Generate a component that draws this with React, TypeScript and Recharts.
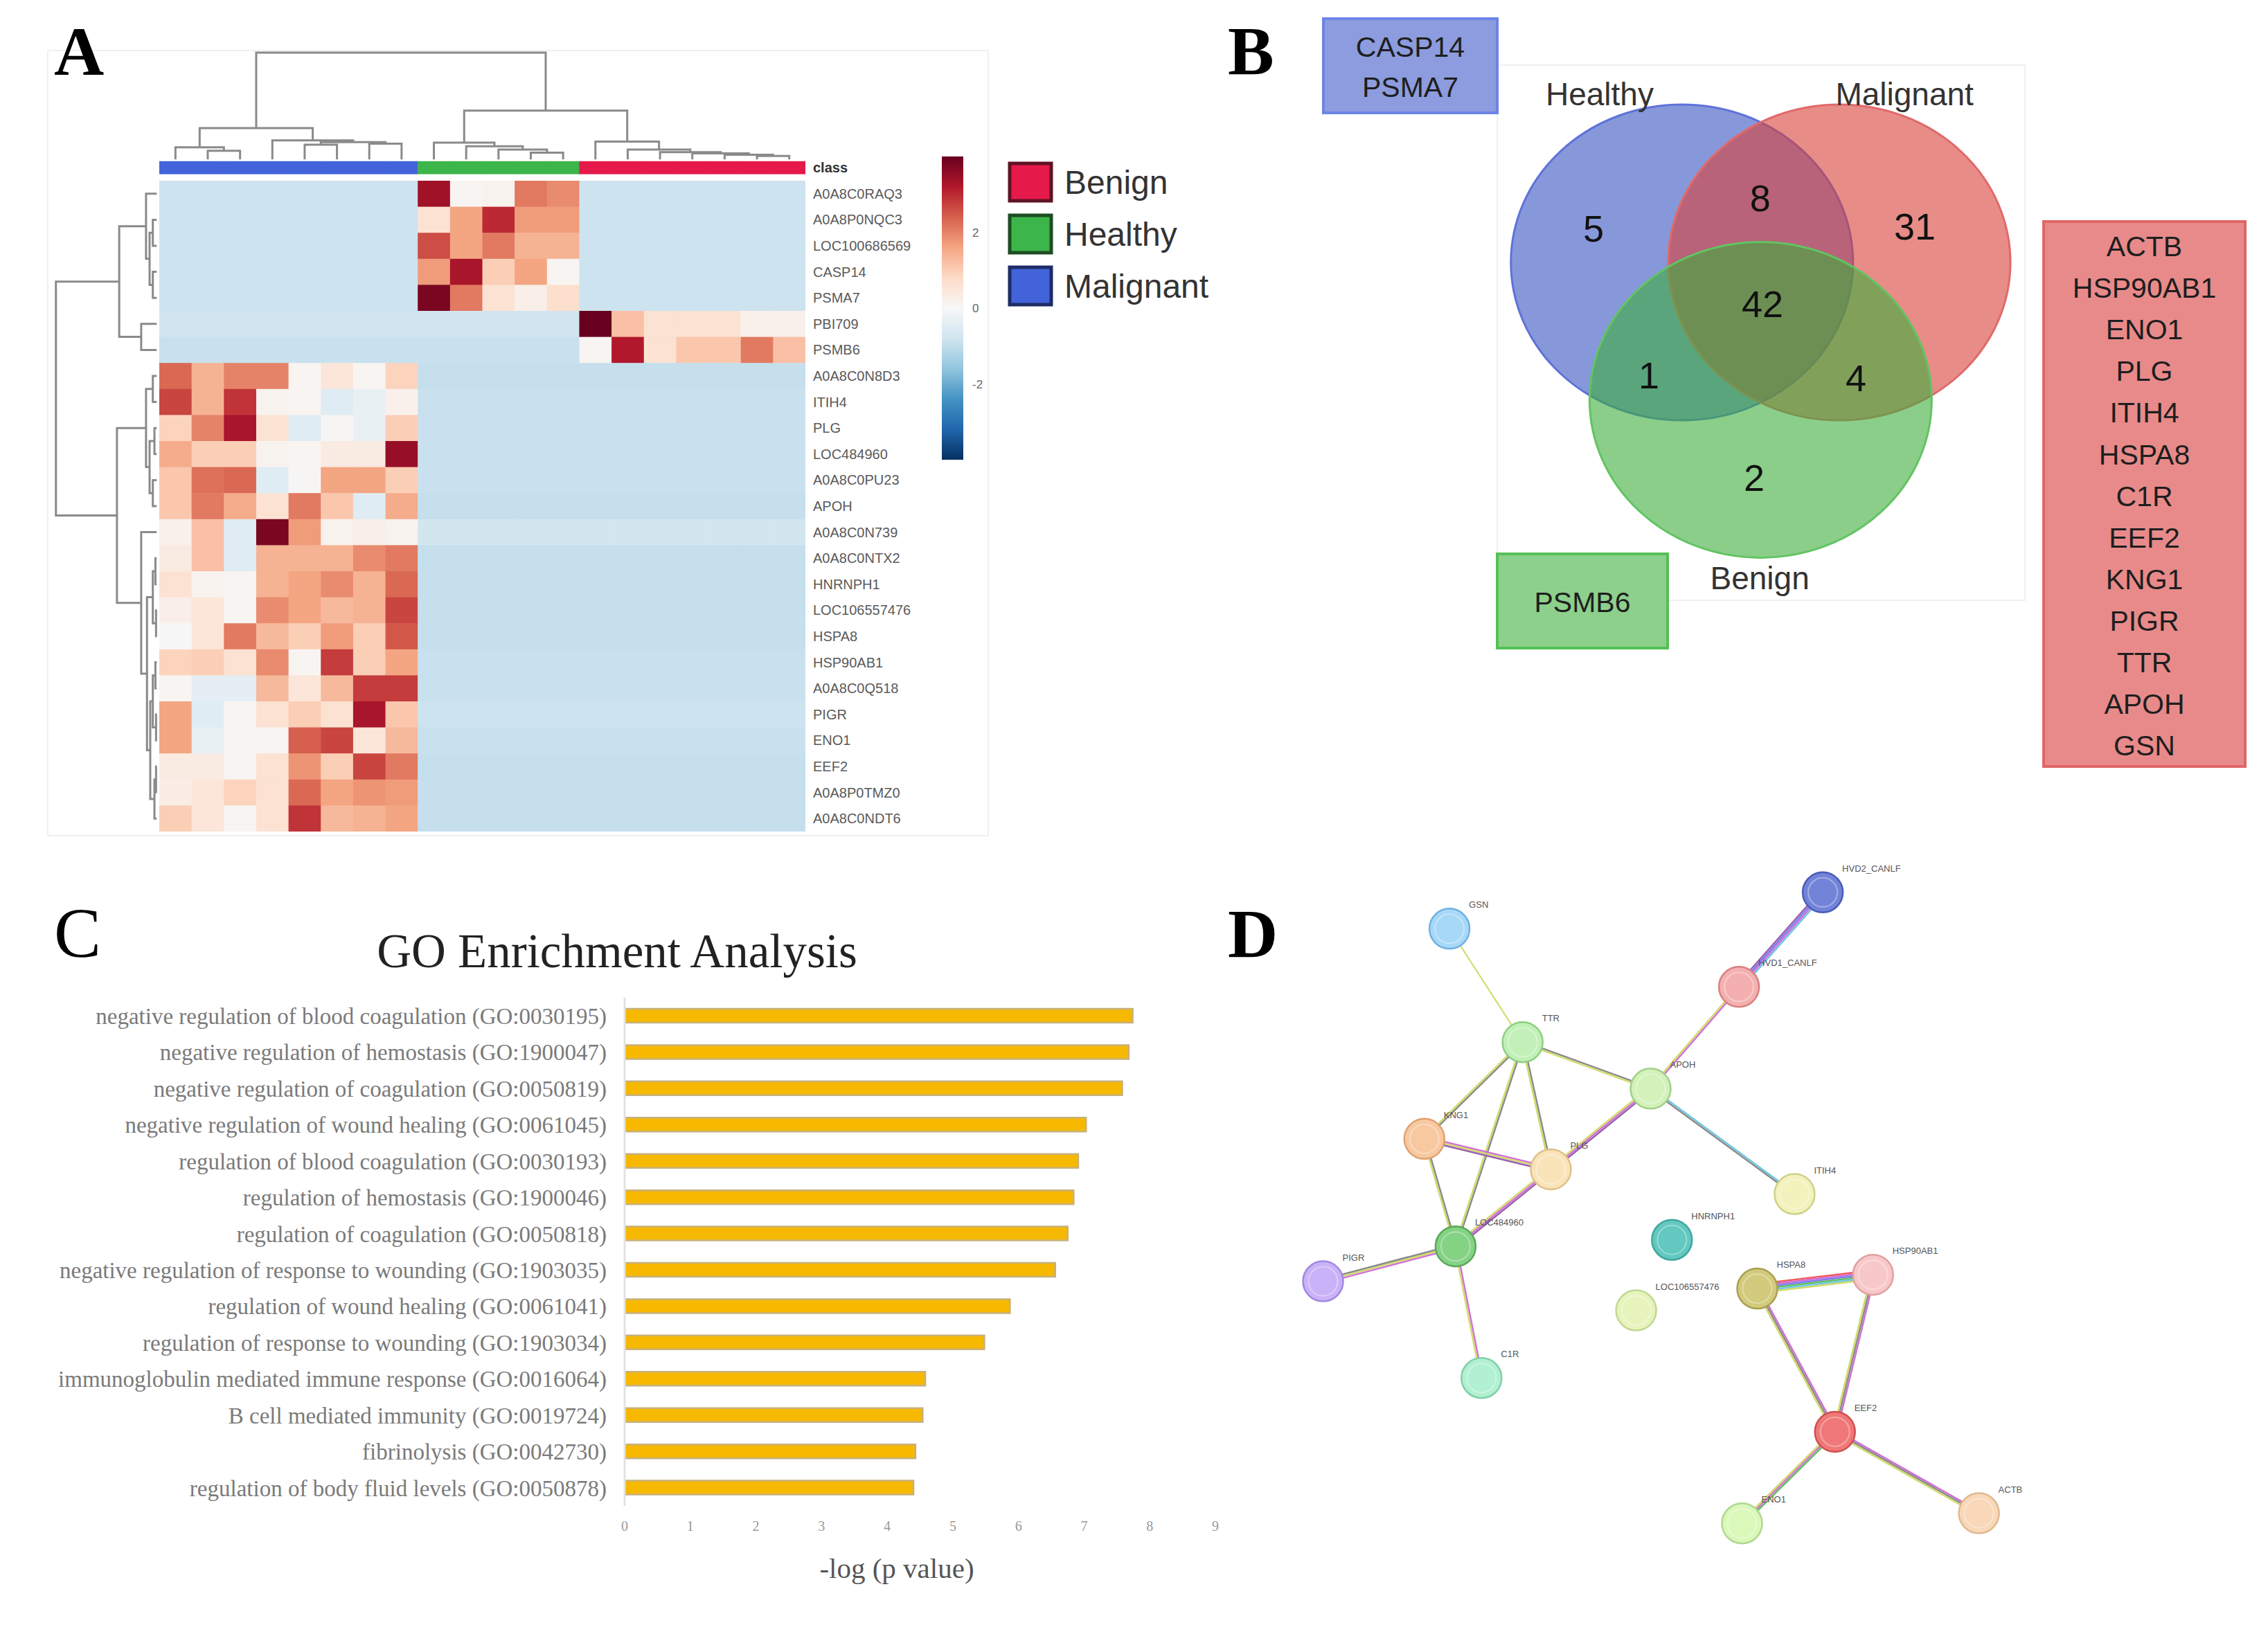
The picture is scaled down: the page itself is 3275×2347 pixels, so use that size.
import React from 'react';
import { ScatterChart, Scatter, XAxis, YAxis, BarChart, Bar, ReferenceArea } from 'recharts';

// ================= Panel A: heatmap data =================
const geneNames = [
  'A0A8C0RAQ3', 'A0A8P0NQC3', 'LOC100686569', 'CASP14', 'PSMA7', 'PBI709', 'PSMB6',
  'A0A8C0N8D3', 'ITIH4', 'PLG', 'LOC484960', 'A0A8C0PU23', 'APOH', 'A0A8C0N739',
  'A0A8C0NTX2', 'HNRNPH1', 'LOC106557476', 'HSPA8', 'HSP90AB1', 'A0A8C0Q518', 'PIGR',
  'ENO1', 'EEF2', 'A0A8P0TMZ0', 'A0A8C0NDT6',
];
const sampleGroups = ['Malignant', 'Healthy', 'Benign'];
const groupSizes = [8, 5, 7];
const rowGroup = [
  'Healthy', 'Healthy', 'Healthy', 'Healthy', 'Healthy', 'Benign', 'Benign',
  'Malignant', 'Malignant', 'Malignant', 'Malignant', 'Malignant', 'Malignant', 'Malignant',
  'Malignant', 'Malignant', 'Malignant', 'Malignant', 'Malignant', 'Malignant', 'Malignant',
  'Malignant', 'Malignant', 'Malignant', 'Malignant',
];
const healthyRowValues = [
  [3.4, 0.1, 0.15, 2.1, 1.9],
  [0.6, 1.6, 3.0, 1.7, 1.7],
  [2.6, 1.6, 2.1, 1.4, 1.4],
  [1.7, 3.3, 1.0, 1.6, 0.1],
  [3.8, 2.1, 0.6, 0.25, 0.7],
];
const benignRowValues = [
  [4.0, 1.2, 0.6, 0.6, 0.6, 0.2, 0.2],
  [0.1, 3.2, 0.6, 1.1, 1.1, 2.1, 1.2],
];
const malignantRowValues = [
  [2.3, 1.4, 2.0, 2.0, 0.1, 0.5, 0.1, 0.9],
  [2.7, 1.4, 2.9, 0.15, 0.1, -0.5, -0.3, 0.2],
  [0.9, 2.0, 3.3, 0.6, -0.5, 0.05, -0.3, 1.0],
  [1.5, 1.0, 1.0, 0.15, 0.1, 0.35, 0.35, 3.5],
  [1.1, 2.2, 2.3, -0.5, 0.05, 1.6, 1.6, 1.0],
  [1.1, 2.1, 1.5, 0.6, 2.1, 1.1, -0.5, 1.5],
  [0.2, 1.2, -0.5, 3.8, 1.7, 0.15, 0.25, 0.15],
  [0.35, 1.2, -0.5, 1.4, 1.4, 1.4, 1.9, 2.1],
  [0.6, 0.15, 0.1, 1.4, 1.6, 1.9, 1.4, 2.3],
  [0.25, 0.5, 0.1, 1.9, 1.6, 1.3, 1.4, 2.7],
  [0.0, 0.5, 2.1, 1.3, 1.0, 1.7, 1.0, 2.5],
  [0.9, 1.0, 0.6, 1.9, 0.1, 2.8, 1.0, 1.6],
  [0.1, -0.4, -0.4, 1.3, 0.5, 1.3, 2.8, 2.8],
  [1.6, -0.5, 0.1, 0.6, 1.0, 0.6, 3.3, 1.1],
  [1.6, -0.3, 0.1, 0.1, 2.4, 2.7, 0.5, 1.3],
  [0.35, 0.35, 0.05, 0.6, 1.8, 1.0, 2.7, 2.1],
  [0.3, 0.5, 0.9, 0.6, 2.3, 1.6, 1.8, 1.7],
  [1.0, 0.5, 0.1, 0.6, 2.9, 1.3, 1.4, 1.6],
];
const rowBackground = [
  -0.85, -0.85, -0.85, -0.85, -0.85, -0.8, -0.9, -0.95, -0.9, -0.9, -0.9, -0.9, -0.95,
  -0.75, -0.95, -0.95, -0.95, -0.95, -0.9, -0.9, -0.85, -0.9, -0.95, -0.95, -0.95,
];
// [childA, childB, height]; leaves are column / row indices, merges numbered after leaves
const colLinkage = [
  [1, 2, -1.15], [0, 20, -1.28], [4, 5, -1.38], [6, 7, -1.42], [22, 23, -1.48], [3, 24, -1.55],
  [21, 25, -2.02], [11, 12, -1.08], [10, 27, -1.2], [9, 28, -1.32], [8, 29, -1.46],
  [18, 19, -0.95], [17, 31, -1.0], [16, 32, -1.05], [15, 33, -1.1], [14, 34, -1.2], [13, 35, -1.5],
  [30, 36, -2.69], [26, 37, -4.92],
];
const rowLinkage = [
  [1, 2, -0.2], [3, 4, -0.2], [25, 26, -0.3], [0, 27, -0.41], [5, 6, -0.56], [28, 29, -1.24],
  [7, 8, -0.2], [9, 10, -0.15], [11, 12, -0.2], [32, 33, -0.3], [31, 34, -0.41],
  [14, 15, -0.12], [16, 17, -0.1], [36, 37, -0.2], [18, 19, -0.12], [20, 21, -0.1], [39, 40, -0.2],
  [22, 23, -0.1], [42, 24, -0.15], [41, 43, -0.28], [38, 44, -0.38], [13, 45, -0.56],
  [35, 46, -1.31], [30, 47, -3.2],
];
const colorbarTicks = [-2, 0, 2];

// ================= Panel B: Venn data =================
const vennSets = [
  { name: 'Healthy', x: 1.08, y: 1.25, r: 1 },
  { name: 'Malignant', x: 2.0, y: 1.25, r: 1 },
  { name: 'Benign', x: 1.54, y: 2.12, r: 1 },
];
const vennCounts = [
  { x: 0.563, y: 1.035, count: 5 },
  { x: 1.538, y: 0.842, count: 8 },
  { x: 2.441, y: 1.018, count: 31 },
  { x: 1.551, y: 1.509, count: 42 },
  { x: 0.887, y: 1.961, count: 1 },
  { x: 2.097, y: 1.982, count: 4 },
  { x: 1.502, y: 2.614, count: 2 },
];
const vennNames = [
  { x: 0.599, y: 0.182, label: 'Healthy' },
  { x: 2.381, y: 0.182, label: 'Malignant' },
  { x: 1.535, y: 3.246, label: 'Benign' },
];
const healthyOnlyGenes = ['CASP14', 'PSMA7'];
const benignOnlyGenes = ['PSMB6'];
const malignantOnlyGenes = ['ACTB', 'HSP90AB1', 'ENO1', 'PLG', 'ITIH4', 'HSPA8', 'C1R', 'EEF2', 'KNG1', 'PIGR', 'TTR', 'APOH', 'GSN'];

// ================= Panel C: GO enrichment =================
const goTerms = [
  'negative regulation of blood coagulation (GO:0030195)',
  'negative regulation of hemostasis (GO:1900047)',
  'negative regulation of coagulation (GO:0050819)',
  'negative regulation of wound healing (GO:0061045)',
  'regulation of blood coagulation (GO:0030193)',
  'regulation of hemostasis (GO:1900046)',
  'regulation of coagulation (GO:0050818)',
  'negative regulation of response to wounding (GO:1903035)',
  'regulation of wound healing (GO:0061041)',
  'regulation of response to wounding (GO:1903034)',
  'immunoglobulin mediated immune response (GO:0016064)',
  'B cell mediated immunity (GO:0019724)',
  'fibrinolysis (GO:0042730)',
  'regulation of body fluid levels (GO:0050878)',
];
const goValues = [7.74, 7.68, 7.58, 7.03, 6.91, 6.84, 6.75, 6.56, 5.87, 5.48, 4.58, 4.54, 4.43, 4.4];
const goTicks = [0, 1, 2, 3, 4, 5, 6, 7, 8, 9];

// ================= Panel D: network =================
const networkNodes = [
  { id: 'GSN', x: 22.1, y: 8.7 },
  { id: 'HVD2_CANLF', x: 71.1, y: 3.7 },
  { id: 'HVD1_CANLF', x: 60.1, y: 16.7 },
  { id: 'TTR', x: 31.7, y: 24.3 },
  { id: 'APOH', x: 48.5, y: 30.7 },
  { id: 'KNG1', x: 18.8, y: 37.6 },
  { id: 'PLG', x: 35.4, y: 41.8 },
  { id: 'ITIH4', x: 67.4, y: 45.2 },
  { id: 'LOC484960', x: 22.9, y: 52.4 },
  { id: 'PIGR', x: 5.5, y: 57.2 },
  { id: 'HNRNPH1', x: 51.3, y: 51.5 },
  { id: 'LOC106557476', x: 46.6, y: 61.2 },
  { id: 'HSPA8', x: 62.5, y: 58.2 },
  { id: 'HSP90AB1', x: 77.7, y: 56.3 },
  { id: 'C1R', x: 26.3, y: 70.5 },
  { id: 'EEF2', x: 72.7, y: 77.9 },
  { id: 'ENO1', x: 60.5, y: 90.5 },
  { id: 'ACTB', x: 91.6, y: 89.1 },
];
const networkEdges: [string, string, string[]][] = [
  ['GSN', 'TTR', ['textmining']],
  ['HVD2_CANLF', 'HVD1_CANLF', ['database', 'experiments', 'cooccurrence', 'homology']],
  ['HVD1_CANLF', 'APOH', ['experiments', 'textmining']],
  ['TTR', 'APOH', ['coexpression', 'textmining']],
  ['TTR', 'KNG1', ['coexpression', 'textmining']],
  ['TTR', 'PLG', ['coexpression', 'textmining']],
  ['TTR', 'LOC484960', ['coexpression', 'textmining']],
  ['APOH', 'PLG', ['homology', 'experiments', 'textmining']],
  ['PLG', 'LOC484960', ['homology', 'experiments', 'textmining']],
  ['APOH', 'ITIH4', ['database', 'coexpression']],
  ['KNG1', 'PLG', ['experiments', 'textmining', 'homology']],
  ['KNG1', 'LOC484960', ['coexpression', 'textmining']],
  ['LOC484960', 'PIGR', ['experiments', 'textmining', 'coexpression']],
  ['LOC484960', 'C1R', ['experiments', 'textmining']],
  ['HSPA8', 'HSP90AB1', ['fusion', 'experiments', 'cooccurrence', 'neighborhood', 'database', 'textmining']],
  ['HSPA8', 'EEF2', ['experiments', 'coexpression', 'textmining']],
  ['HSP90AB1', 'EEF2', ['experiments', 'coexpression', 'textmining']],
  ['EEF2', 'ENO1', ['neighborhood', 'experiments', 'textmining']],
  ['EEF2', 'ACTB', ['experiments', 'coexpression', 'textmining']],
];

// ================= styles =================
const GROUP_COLORS: Record<string, string> = { Malignant: '#4263D9', Healthy: '#3CB54A', Benign: '#E6194B' };
const GROUP_BORDER: Record<string, string> = { Malignant: '#1E2C66', Healthy: '#1D4D22', Benign: '#5E1424' };
const RDBU = ['#053061', '#2166ac', '#4393c3', '#92c5de', '#d1e5f0', '#f7f7f7', '#fddbc7', '#f4a582', '#d6604d', '#b2182b', '#67001f'];
const VENN_STYLE: Record<string, { fill: string; stroke: string }> = {
  Healthy: { fill: 'rgb(55,83,193)', stroke: '#5E72D8' },
  Malignant: { fill: 'rgb(217,63,57)', stroke: '#E06A6A' },
  Benign: { fill: 'rgb(60,173,60)', stroke: '#62C462' },
};
const EVIDENCE_COLORS: Record<string, string> = {
  experiments: '#D26FD6', textmining: '#D2DA6A', coexpression: '#8A8A8A', database: '#6CC8E4',
  cooccurrence: '#7A7AF0', neighborhood: '#5DBF5D', fusion: '#EF5B5B', homology: '#9A62B0',
};
const NODE_STYLE: Record<string, { fill: string; stroke: string }> = {
  GSN: { fill: '#A8D8F8', stroke: '#6FB0E0' },
  HVD2_CANLF: { fill: '#7383D8', stroke: '#4A5AB8' },
  HVD1_CANLF: { fill: '#F4B0B0', stroke: '#D88080' },
  TTR: { fill: '#C2F0B8', stroke: '#8CD080' },
  APOH: { fill: '#D2F2BA', stroke: '#A0D088' },
  KNG1: { fill: '#F8C8A0', stroke: '#E0A070' },
  PLG: { fill: '#F8E4B8', stroke: '#E0C088' },
  ITIH4: { fill: '#F2F2BC', stroke: '#D0D088' },
  LOC484960: { fill: '#84D284', stroke: '#58A858' },
  PIGR: { fill: '#CAB2F8', stroke: '#A088E0' },
  HNRNPH1: { fill: '#62C8C0', stroke: '#40A8A0' },
  LOC106557476: { fill: '#E6F4BC', stroke: '#C0D890' },
  HSPA8: { fill: '#D2CA7C', stroke: '#A8A050' },
  HSP90AB1: { fill: '#F8C8C8', stroke: '#E0A0A0' },
  C1R: { fill: '#B2F0D2', stroke: '#80D0A8' },
  EEF2: { fill: '#F07878', stroke: '#D05050' },
  ENO1: { fill: '#DAF8BA', stroke: '#B0D890' },
  ACTB: { fill: '#F8D8B8', stroke: '#E0B890' },
};

// ================= geometry of the plots =================
const A_XDOM: [number, number] = [-3.28, 20];
const A_YDOM: [number, number] = [-5, 25];
const A_PLOT_W = 1086;
const A_PLOT_H = 1128;
const A_AXIS_W = 240;
const A_PX_X = A_PLOT_W / (A_XDOM[1] - A_XDOM[0]);
const A_PX_Y = A_PLOT_H / (A_YDOM[1] - A_YDOM[0]);

const V_W = 762;
const V_H = 773;
const V_XDOM: [number, number] = [0, 3.085];
const V_YDOM: [number, number] = [0, 3.39];
const V_PX_X = V_W / (V_XDOM[1] - V_XDOM[0]);
const V_PX_Y = V_H / (V_YDOM[1] - V_YDOM[0]);

const NODE_R = 29;

// ================= helpers =================
function hexToRgb(h: string) {
  return [parseInt(h.slice(1, 3), 16), parseInt(h.slice(3, 5), 16), parseInt(h.slice(5, 7), 16)];
}
function rdbu(v: number) {
  const t = Math.max(0, Math.min(1, (v + 4) / 8)) * 10;
  const i = Math.min(9, Math.floor(t));
  const f = t - i;
  const a = hexToRgb(RDBU[i]);
  const b = hexToRgb(RDBU[i + 1]);
  const c = a.map((x, k) => Math.round(x + (b[k] - x) * f));
  return `rgb(${c[0]},${c[1]},${c[2]})`;
}

const colGroup: string[] = [];
sampleGroups.forEach((g, i) => {
  for (let k = 0; k < groupSizes[i]; k++) colGroup.push(g);
});
const groupStart: Record<string, number> = {};
colGroup.forEach((g, i) => {
  if (groupStart[g] === undefined) groupStart[g] = i;
});

const heatCells: { x: number; y: number; v: number }[] = [];
{
  const counters: Record<string, number> = { Healthy: 0, Benign: 0, Malignant: 0 };
  const src: Record<string, number[][]> = { Healthy: healthyRowValues, Benign: benignRowValues, Malignant: malignantRowValues };
  geneNames.forEach((_, r) => {
    const g = rowGroup[r];
    const vals = src[g][counters[g]++];
    colGroup.forEach((cg, c) => {
      const v = cg === g ? vals[c - groupStart[g]] : rowBackground[r];
      heatCells.push({ x: c + 0.5, y: r + 0.5, v });
    });
  });
}
const classCells = colGroup.map((g, c) => ({ x: c + 0.5, y: -0.5, group: g }));

function buildLinks(linkage: number[][], nLeaves: number, leafH: number) {
  const pos: number[] = [];
  const h: number[] = [];
  for (let i = 0; i < nLeaves; i++) {
    pos[i] = i + 0.5;
    h[i] = leafH;
  }
  return linkage.map(([a, b, height], k) => {
    const id = nLeaves + k;
    pos[id] = (pos[a] + pos[b]) / 2;
    h[id] = height;
    return { pa: pos[a], pb: pos[b], ha: h[a], hb: h[b], h: height };
  });
}
const colLinks = buildLinks(colLinkage, 20, -0.82).map((l) => [
  { x: l.pa, y: l.ha }, { x: l.pa, y: l.h }, { x: l.pb, y: l.h }, { x: l.pb, y: l.hb },
]);
const rowLinks = buildLinks(rowLinkage, 25, -0.08).map((l) => [
  { x: l.ha, y: l.pa }, { x: l.h, y: l.pa }, { x: l.h, y: l.pb }, { x: l.hb, y: l.pb },
]);
const rowTicks = [-0.5, ...geneNames.map((_, i) => i + 0.5)];

const goData = goTerms.map((term, i) => ({ term, value: goValues[i] }));
const nodeById: Record<string, { id: string; x: number; y: number }> = {};
networkNodes.forEach((n) => (nodeById[n.id] = n));

// ================= shapes =================
const Empty = () => <g />;

const HeatCell = (p: any) => {
  const v = p.payload ? p.payload.v : p.v;
  return (
    <rect x={p.cx - A_PX_X / 2} y={p.cy - A_PX_Y / 2} width={A_PX_X + 0.6} height={A_PX_Y + 0.6} fill={rdbu(v)} />
  );
};
const ClassCell = (p: any) => {
  const g = p.payload ? p.payload.group : p.group;
  const h = A_PX_Y * 0.5;
  return <rect x={p.cx - A_PX_X / 2} y={p.cy - h / 2} width={A_PX_X + 0.6} height={h} fill={GROUP_COLORS[g]} />;
};
const GeneTick = (p: any) => {
  const v = p.payload.value;
  const isClass = v < 0;
  const label = isClass ? 'class' : geneNames[Math.floor(v)];
  return (
    <text x={p.x} y={p.y} dy="0.35em" textAnchor="start" fontFamily="Liberation Sans, Arial, sans-serif"
      fontSize={20} fontWeight={isClass ? 'bold' : 'normal'} fill={isClass ? '#333' : '#5a5a5a'}>
      {label}
    </text>
  );
};
const VennCircle = (p: any) => {
  const d = p.payload || p;
  const st = VENN_STYLE[d.name];
  return (
    <ellipse cx={p.cx} cy={p.cy} rx={d.r * V_PX_X} ry={d.r * V_PX_Y} fill={st.fill} fillOpacity={0.6}
      stroke={st.stroke} strokeWidth={3} />
  );
};
const VennCount = (p: any) => {
  const d = p.payload || p;
  return (
    <text x={p.cx} y={p.cy} dy="0.36em" textAnchor="middle" fontFamily="Liberation Sans, Arial, sans-serif"
      fontSize={54} fill="#111">
      {d.count}
    </text>
  );
};
const VennName = (p: any) => {
  const d = p.payload || p;
  return (
    <text x={p.cx} y={p.cy} dy="0.36em" textAnchor="middle" fontFamily="Liberation Sans, Arial, sans-serif"
      fontSize={46} fill="#333">
      {d.label}
    </text>
  );
};
const NodeShape = (p: any) => {
  const d = p.payload || p;
  const st = NODE_STYLE[d.id];
  return (
    <g>
      <circle cx={p.cx} cy={p.cy} r={NODE_R} fill={st.fill} stroke={st.stroke} strokeWidth={2.5} />
      <circle cx={p.cx} cy={p.cy} r={NODE_R - 8} fill="none" stroke="#ffffff" strokeOpacity={0.35} strokeWidth={2} />
      <text x={p.cx + 28} y={p.cy - 30} fontFamily="Liberation Sans, Arial, sans-serif" fontSize={13} fill="#555">
        {d.id}
      </text>
    </g>
  );
};
const makeEdgeLine = (channels: string[]) => (p: any) => {
  const pts = p.points;
  if (!pts || pts.length < 2) return <g />;
  const a = pts[0];
  const b = pts[1];
  const dx = b.x - a.x;
  const dy = b.y - a.y;
  const len = Math.hypot(dx, dy) || 1;
  const nx = -dy / len;
  const ny = dx / len;
  const sp = 2.6;
  const n = channels.length;
  return (
    <g>
      {channels.map((c, i) => {
        const o = (i - (n - 1) / 2) * sp;
        return (
          <line key={i} x1={a.x + nx * o} y1={a.y + ny * o} x2={b.x + nx * o} y2={b.y + ny * o}
            stroke={EVIDENCE_COLORS[c]} strokeWidth={n === 1 ? 2 : 2.5} />
        );
      })}
    </g>
  );
};

const ZERO = { top: 0, right: 0, bottom: 0, left: 0 };
const SERIF = 'Liberation Serif, Times New Roman, serif';
const SANS = 'Liberation Sans, Arial, sans-serif';

function GeneBox({ x, y, w, h, fill, stroke, genes, firstBaseline, step }: any) {
  return (
    <g>
      <rect x={x} y={y} width={w} height={h} fill={fill} stroke={stroke} strokeWidth={4} />
      {genes.map((g: string, i: number) => (
        <text key={g} x={x + w / 2} y={firstBaseline + i * step} textAnchor="middle" fontFamily={SANS} fontSize={41} fill="#1e1e1e">
          {g}
        </text>
      ))}
    </g>
  );
}

export default function App() {
  return (
    <div style={{ position: 'absolute', left: 0, top: 0, width: 3275, height: 2347, background: '#fff', overflow: 'hidden' }}>
      {/* static annotation layer */}
      <svg width={3275} height={2347} style={{ position: 'absolute', left: 0, top: 0 }}>
        <rect x={69} y={73} width={1358} height={1134} fill="none" stroke="#f0f0f0" strokeWidth={2} />
        <rect x={2162} y={94} width={762} height={773} fill="none" stroke="#f0f0f0" strokeWidth={2} />
        <text x={78} y={108} fontFamily={SERIF} fontWeight="bold" fontSize={100} fill="#000">A</text>
        <text x={1773} y={107} fontFamily={SERIF} fontWeight="bold" fontSize={100} fill="#000">B</text>
        <text x={78} y={1382} fontFamily={SERIF} fontSize={102} fill="#000">C</text>
        <text x={1773} y={1382} fontFamily={SERIF} fontWeight="bold" fontSize={100} fill="#000">D</text>

        {/* heatmap legend */}
        {['Benign', 'Healthy', 'Malignant'].map((g, i) => {
          const top = [236, 311, 386][i];
          return (
            <g key={g}>
              <rect x={1458} y={top} width={60} height={54} fill={GROUP_COLORS[g]} stroke={GROUP_BORDER[g]} strokeWidth={5} />
              <text x={1537} y={top + 44} fontFamily={SANS} fontSize={48} fill="#333">{g}</text>
            </g>
          );
        })}

        {/* Venn gene boxes */}
        <GeneBox x={1911} y={27} w={251} h={136} fill="#8C9CDE" stroke="#6D83E6" genes={healthyOnlyGenes} firstBaseline={82} step={58} />
        <GeneBox x={2162} y={800} w={246} h={136} fill="#8CD08C" stroke="#55C055" genes={benignOnlyGenes} firstBaseline={884} step={58} />
        <GeneBox x={2951} y={320} w={291} h={787} fill="#E88A8A" stroke="#E06666" genes={malignantOnlyGenes} firstBaseline={370} step={60.1} />

        {/* GO titles */}
        <text x={891} y={1397} textAnchor="middle" fontFamily={SERIF} fontSize={69} fill="#222">GO Enrichment Analysis</text>
        <text x={1295} y={2279} textAnchor="middle" fontFamily={SERIF} fontSize={41} fill="#555">-log (p value)</text>
      </svg>

      {/* Panel A heatmap */}
      <div style={{ position: 'absolute', left: 77, top: 73 }}>
        <ScatterChart width={A_PLOT_W + A_AXIS_W} height={A_PLOT_H} margin={ZERO}>
          <XAxis type="number" dataKey="x" domain={A_XDOM} hide allowDataOverflow />
          <YAxis type="number" dataKey="y" domain={A_YDOM} reversed orientation="right" width={A_AXIS_W}
            ticks={rowTicks} interval={0} tickLine={false} axisLine={false} tickMargin={5} tick={GeneTick} allowDataOverflow />
          <Scatter data={heatCells} shape={HeatCell} isAnimationActive={false} />
          <Scatter data={classCells} shape={ClassCell} isAnimationActive={false} />
          {colLinks.map((pts, i) => (
            <Scatter key={'c' + i} data={pts} shape={Empty} line={{ stroke: '#8a8a8a', strokeWidth: 3 }} lineType="joint" isAnimationActive={false} />
          ))}
          {rowLinks.map((pts, i) => (
            <Scatter key={'r' + i} data={pts} shape={Empty} line={{ stroke: '#8a8a8a', strokeWidth: 3 }} lineType="joint" isAnimationActive={false} />
          ))}
        </ScatterChart>
      </div>

      {/* colour bar */}
      <div style={{ position: 'absolute', left: 1360, top: 226 }}>
        <ScatterChart width={31 + 60} height={438} margin={ZERO}>
          <defs>
            <linearGradient id="rdbuBar" x1="0" y1="0" x2="0" y2="1">
              {RDBU.map((c, k) => (
                <stop key={k} offset={`${k * 10}%`} stopColor={RDBU[10 - k]} />
              ))}
            </linearGradient>
          </defs>
          <XAxis type="number" dataKey="x" domain={[0, 1]} hide allowDataOverflow />
          <YAxis type="number" dataKey="y" domain={[-4, 4]} orientation="right" width={60} ticks={colorbarTicks}
            interval={0} tickLine={false} axisLine={false} tickMargin={7} allowDataOverflow
            tick={{ fontSize: 17, fill: '#666', fontFamily: SANS }} />
          <ReferenceArea x1={0} x2={1} y1={-4} y2={4} fill="url(#rdbuBar)" fillOpacity={1} stroke="none" />
          <Scatter data={[{ x: 0, y: -4 }, { x: 1, y: 4 }]} shape={Empty} isAnimationActive={false} />
        </ScatterChart>
      </div>

      {/* Panel B Venn */}
      <div style={{ position: 'absolute', left: 2162, top: 94 }}>
        <ScatterChart width={V_W} height={V_H} margin={ZERO}>
          <XAxis type="number" dataKey="x" domain={V_XDOM} hide allowDataOverflow />
          <YAxis type="number" dataKey="y" domain={V_YDOM} reversed hide allowDataOverflow />
          {vennSets.map((s) => (
            <Scatter key={s.name} data={[s]} shape={VennCircle} isAnimationActive={false} />
          ))}
          <Scatter data={vennCounts} shape={VennCount} isAnimationActive={false} />
          <Scatter data={vennNames} shape={VennName} isAnimationActive={false} />
        </ScatterChart>
      </div>

      {/* Panel C GO bar chart */}
      <div style={{ position: 'absolute', left: 20, top: 1441 }}>
        <BarChart width={882 + 853 + 30} height={734 + 60} data={goData} layout="vertical"
          margin={{ top: 0, right: 30, bottom: 0, left: 0 }}>
          <XAxis type="number" dataKey="value" domain={[0, 9]} ticks={goTicks} interval={0} tickLine={false}
            axisLine={false} tickMargin={16} height={60} allowDataOverflow
            tick={{ fontSize: 20, fill: '#999', fontFamily: SERIF }} />
          <YAxis type="category" dataKey="term" width={882} interval={0} tickLine={false}
            axisLine={{ stroke: '#e2e2e2', strokeWidth: 3 }} tickMargin={20}
            tick={{ fontSize: 33, fill: '#7a7a7a', fontFamily: SERIF }} />
          <Bar dataKey="value" barSize={20} fill="#F6B900" stroke="#C8B07A" strokeWidth={2.5} isAnimationActive={false} />
        </BarChart>
      </div>

      {/* Panel D network */}
      <div style={{ position: 'absolute', left: 1850, top: 1200 }}>
        <ScatterChart width={1150} height={1100} margin={{ top: 50, right: 50, bottom: 0, left: 0 }}>
          <XAxis type="number" dataKey="x" domain={[0, 100]} hide allowDataOverflow />
          <YAxis type="number" dataKey="y" domain={[0, 100]} reversed hide allowDataOverflow />
          {networkEdges.map(([a, b, ch], i) => (
            <Scatter key={'e' + i} data={[nodeById[a], nodeById[b]]} shape={Empty} line={makeEdgeLine(ch)}
              lineType="joint" isAnimationActive={false} />
          ))}
          <Scatter data={networkNodes} shape={NodeShape} isAnimationActive={false} />
        </ScatterChart>
      </div>
    </div>
  );
}
